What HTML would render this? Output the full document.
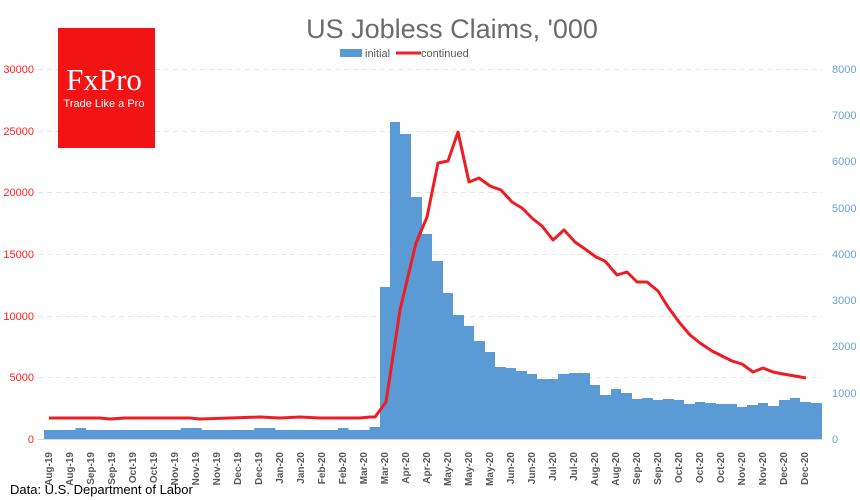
<!DOCTYPE html>
<html><head><meta charset="utf-8"><style>
html,body{margin:0;padding:0;background:#fff;}
svg{display:block;font-family:"Liberation Sans",sans-serif;}
</style></head><body>
<svg width="860" height="500" viewBox="0 0 860 500" xmlns="http://www.w3.org/2000/svg">
<rect width="860" height="500" fill="#fff"/>
<g stroke="#e6e6e6" stroke-width="1" stroke-dasharray="5,4">
<line x1="38" x2="822" y1="69.5" y2="69.5"/>
<line x1="38" x2="822" y1="131.5" y2="131.5"/>
<line x1="38" x2="822" y1="192.5" y2="192.5"/>
<line x1="38" x2="822" y1="254.5" y2="254.5"/>
<line x1="38" x2="822" y1="316.5" y2="316.5"/>
<line x1="38" x2="822" y1="377.5" y2="377.5"/>
</g>
<g fill="#ff2020" font-size="11" text-anchor="end">
<text x="34" y="73">30000</text><text x="34" y="135">25000</text><text x="34" y="196">20000</text>
<text x="34" y="258">15000</text><text x="34" y="320">10000</text><text x="34" y="381">5000</text><text x="34" y="443">0</text>
</g>
<g fill="#6a9fd8" font-size="11">
<text x="832" y="73">8000</text><text x="832" y="119">7000</text><text x="832" y="165">6000</text>
<text x="832" y="212">5000</text><text x="832" y="258">4000</text><text x="832" y="304">3000</text>
<text x="832" y="350">2000</text><text x="832" y="397">1000</text><text x="832" y="443">0</text>
</g>
<path fill="#5b9bd5" d="M44 439 L44 430 L75.5 430 L75.5 428 L86 428 L86 430 L180.7 430 L180.7 428 L201.7 428 L201.7 430 L254.3 430 L254.3 428 L275.3 428 L275.3 430 L338 430 L338 428 L348.5 428 L348.5 430 L369.5 430 L369.5 427
L380 427 L380 287 L390 287 L390 122 L400 122 L400 134 L411 134 L411 197 L422 197 L422 234 L432 234 L432 261 L443 261 L443 293 L453 293 L453 315 L464 315 L464 326 L474 326 L474 341 L485 341 L485 352 L495 352 L495 367 L506 367 L506 368 L516 368 L516 371 L527 371 L527 374 L537 374 L537 379 L558 379 L558 374 L569 374 L569 373 L590 373 L590 385 L600 385 L600 395 L611 395 L611 389 L621 389 L621 393 L632 393 L632 399 L642 399 L642 398 L653 398 L653 400 L663 400 L663 399 L674 399 L674 400 L684 400 L684 404 L695 404 L695 402 L705 402 L705 403 L716 403 L716 404 L737 404 L737 407 L747 407 L747 405 L758 405 L758 403 L768 403 L768 406 L779 406 L779 400 L790 400 L790 398 L800 398 L800 402 L811 402 L811 403 L822 403 L822 439 Z"/>
<line x1="38" x2="822" y1="439.5" y2="439.5" stroke="#d9d9d9"/>
<polyline fill="none" stroke="#ee1c25" stroke-width="3" stroke-linejoin="round" points="49,418 100,418 110,419 125,418 150,418 190,418 200,419 230,418 260,417 280,418 300,417 320,418 340,418 360,418 370,417 375,417 386,402 400,310 416,243 427,217 438,163 448,161 458,132 469,182 479,178 490,186 501,190 512,202 522,208 533,219 542,226 553,240 564,230 575,242 585,249 596,257 605,261 617,275 627,272 637,282 647,282 658,291 668,307 679,322 690,335 700,343 712,351 722,356 732,361 742,364 753,372 763,368 773,372 783,374 795,376 806,378"/>
<g fill="#595959" font-size="10" font-weight="bold" text-anchor="end">
<text transform="translate(52,452) rotate(-90)">Aug-19</text>
<text transform="translate(73,452) rotate(-90)">Aug-19</text>
<text transform="translate(94,452) rotate(-90)">Sep-19</text>
<text transform="translate(115,452) rotate(-90)">Sep-19</text>
<text transform="translate(136,452) rotate(-90)">Oct-19</text>
<text transform="translate(157,452) rotate(-90)">Oct-19</text>
<text transform="translate(178,452) rotate(-90)">Nov-19</text>
<text transform="translate(199,452) rotate(-90)">Nov-19</text>
<text transform="translate(220,452) rotate(-90)">Nov-19</text>
<text transform="translate(241,452) rotate(-90)">Dec-19</text>
<text transform="translate(262,452) rotate(-90)">Dec-19</text>
<text transform="translate(283,452) rotate(-90)">Jan-20</text>
<text transform="translate(304,452) rotate(-90)">Jan-20</text>
<text transform="translate(325,452) rotate(-90)">Feb-20</text>
<text transform="translate(346,452) rotate(-90)">Feb-20</text>
<text transform="translate(367,452) rotate(-90)">Mar-20</text>
<text transform="translate(388,452) rotate(-90)">Mar-20</text>
<text transform="translate(409,452) rotate(-90)">Apr-20</text>
<text transform="translate(430,452) rotate(-90)">Apr-20</text>
<text transform="translate(451,452) rotate(-90)">May-20</text>
<text transform="translate(472,452) rotate(-90)">May-20</text>
<text transform="translate(493,452) rotate(-90)">May-20</text>
<text transform="translate(514,452) rotate(-90)">Jun-20</text>
<text transform="translate(535,452) rotate(-90)">Jun-20</text>
<text transform="translate(556,452) rotate(-90)">Jul-20</text>
<text transform="translate(577,452) rotate(-90)">Jul-20</text>
<text transform="translate(598,452) rotate(-90)">Aug-20</text>
<text transform="translate(619,452) rotate(-90)">Aug-20</text>
<text transform="translate(640,452) rotate(-90)">Sep-20</text>
<text transform="translate(661,452) rotate(-90)">Sep-20</text>
<text transform="translate(682,452) rotate(-90)">Oct-20</text>
<text transform="translate(703,452) rotate(-90)">Oct-20</text>
<text transform="translate(724,452) rotate(-90)">Oct-20</text>
<text transform="translate(745,452) rotate(-90)">Nov-20</text>
<text transform="translate(766,452) rotate(-90)">Nov-20</text>
<text transform="translate(787,452) rotate(-90)">Dec-20</text>
<text transform="translate(808,452) rotate(-90)">Dec-20</text>
</g>
<text x="452" y="38" text-anchor="middle" font-size="27" fill="#6b6b6b">US Jobless Claims, '000</text>
<rect x="340" y="49" width="22" height="8" fill="#5b9bd5"/>
<text x="365" y="57" font-size="11" fill="#595959">initial</text>
<line x1="396" x2="421" y1="53" y2="53" stroke="#ee1c25" stroke-width="3"/>
<text x="421" y="57" font-size="11" fill="#595959">continued</text>
<rect x="58" y="28" width="97" height="120" fill="#f21414"/>
<text x="104" y="90" text-anchor="middle" font-family="Liberation Serif,serif" font-size="31" fill="#fff">FxPro</text>
<text x="104" y="107" text-anchor="middle" font-size="11" fill="#fff">Trade Like a Pro</text>
<text x="10" y="494" font-size="13" fill="#000">Data: U.S. Department of Labor</text>
</svg>
</body></html>
